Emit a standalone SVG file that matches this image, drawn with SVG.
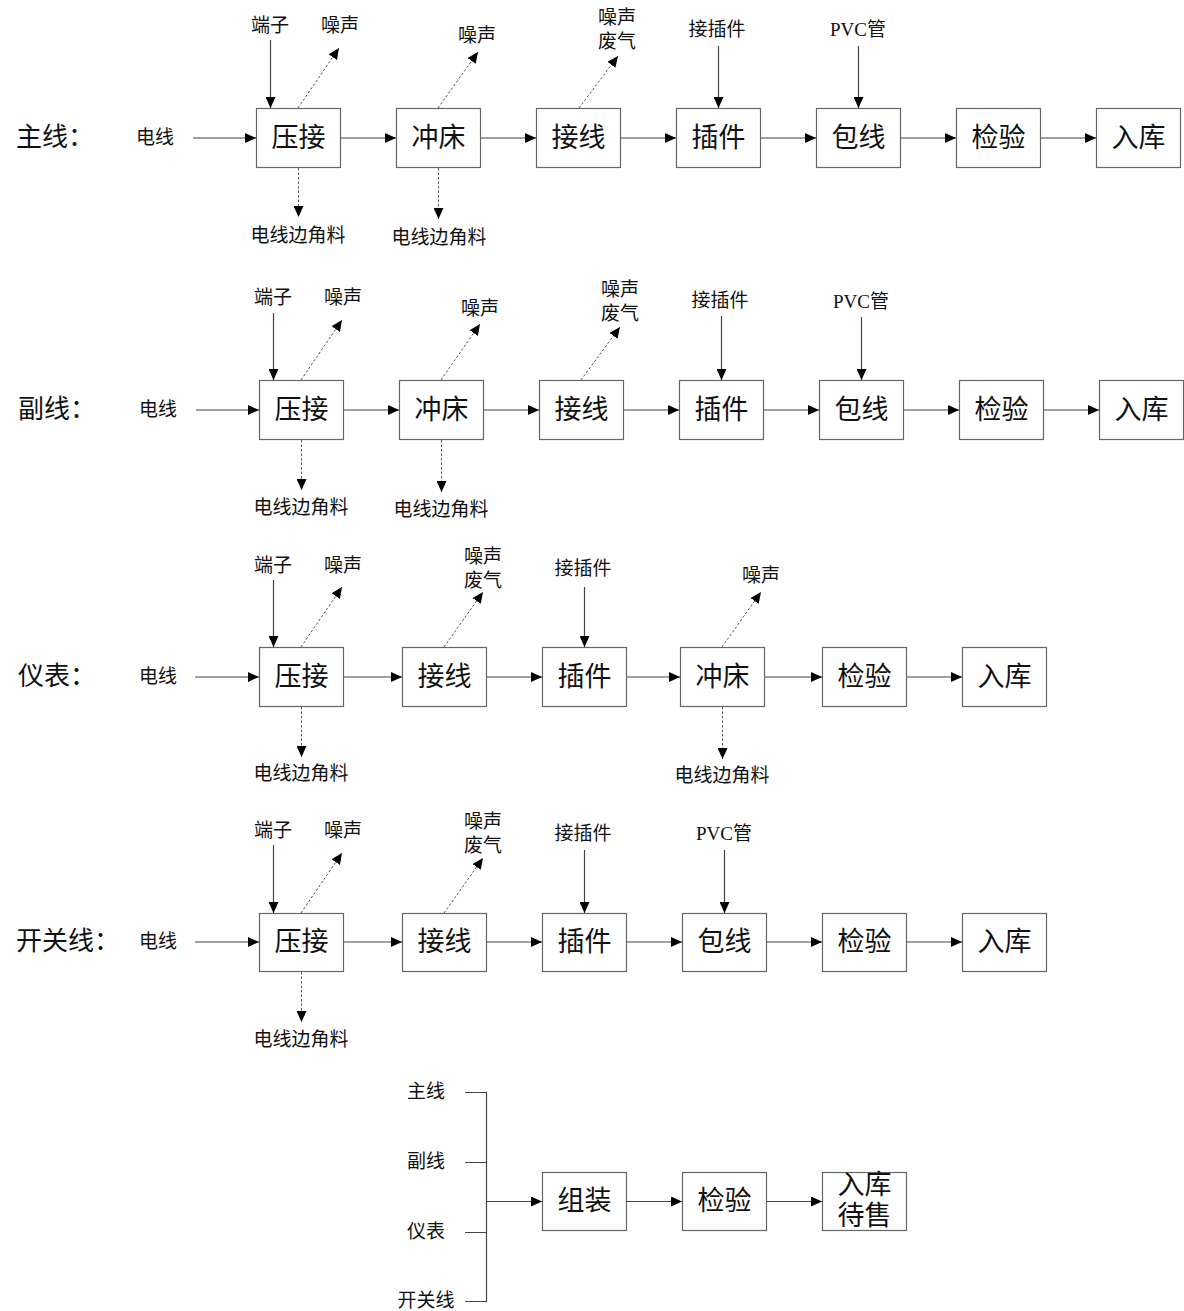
<svg xmlns="http://www.w3.org/2000/svg" width="1184" height="1311" viewBox="0 0 1184 1311">
<defs>
<style>
.box{fill:#fff;stroke:#666;stroke-width:1.2}
.bt{font-family:"Liberation Serif","Noto Sans CJK SC",serif;font-size:27px;fill:#111;text-anchor:middle;dominant-baseline:central}
.st{font-family:"Liberation Serif","Noto Sans CJK SC",serif;font-size:19px;fill:#111;text-anchor:middle;dominant-baseline:central}
.lt{font-family:"Liberation Serif","Noto Sans CJK SC",serif;font-size:26px;fill:#111;dominant-baseline:central}
.ln{fill:none;stroke:#444;stroke-width:1.2}
.ar{marker-end:url(#ah)}
.dt{fill:none;stroke:#555;stroke-width:1;stroke-dasharray:2.5,2;marker-end:url(#ah)}
</style>
<marker id="ah" markerUnits="userSpaceOnUse" markerWidth="12" markerHeight="10" refX="11" refY="5" orient="auto">
<path d="M0,0 L11,5 L0,10 z" fill="#000"/>
</marker>
</defs>
<rect width="1184" height="1311" fill="#fff"/>

<!-- Row 1 主线 -->
<g id="row1-label"><text class="lt" x="16" y="137">主线：</text></g>
<g id="r1-in"><text class="st" x="155" y="137">电线</text></g>
<g id="r1-n1"><rect class="box" x="256.5" y="108.5" width="84" height="59"/><text class="bt" x="298.5" y="138">压接</text></g>
<g id="r1-n2"><rect class="box" x="396.5" y="108.5" width="84" height="59"/><text class="bt" x="438.5" y="138">冲床</text></g>
<g id="r1-n3"><rect class="box" x="536.5" y="108.5" width="84" height="59"/><text class="bt" x="578.5" y="138">接线</text></g>
<g id="r1-n4"><rect class="box" x="676.5" y="108.5" width="84" height="59"/><text class="bt" x="718.5" y="138">插件</text></g>
<g id="r1-n5"><rect class="box" x="816.5" y="108.5" width="84" height="59"/><text class="bt" x="858.5" y="138">包线</text></g>
<g id="r1-n6"><rect class="box" x="956.5" y="108.5" width="84" height="59"/><text class="bt" x="998.5" y="138">检验</text></g>
<g id="r1-n7"><rect class="box" x="1096.5" y="108.5" width="84" height="59"/><text class="bt" x="1138.5" y="138">入库</text></g>
<g id="r1-t1"><text class="st" x="270" y="25">端子</text></g>
<g id="r1-t2"><text class="st" x="340" y="25">噪声</text></g>
<g id="r1-t3"><text class="st" x="298" y="235">电线边角料</text></g>
<g id="r1-t4"><text class="st" x="477" y="35">噪声</text></g>
<g id="r1-t5"><text class="st" x="439" y="237">电线边角料</text></g>
<g id="r1-t6"><text class="st" x="617" y="17">噪声</text><text class="st" x="617" y="41">废气</text></g>
<g id="r1-t7"><text class="st" x="717" y="29">接插件</text></g>
<g id="r1-t8"><text class="st" x="858" y="29">PVC管</text></g>

<!-- Row 2 副线 -->
<g id="row2-label"><text class="lt" x="18" y="409">副线：</text></g>
<g id="r2-in"><text class="st" x="158" y="409">电线</text></g>
<g id="r2-n1"><rect class="box" x="259.5" y="380.5" width="84" height="59"/><text class="bt" x="301.5" y="410">压接</text></g>
<g id="r2-n2"><rect class="box" x="399.5" y="380.5" width="84" height="59"/><text class="bt" x="441.5" y="410">冲床</text></g>
<g id="r2-n3"><rect class="box" x="539.5" y="380.5" width="84" height="59"/><text class="bt" x="581.5" y="410">接线</text></g>
<g id="r2-n4"><rect class="box" x="679.5" y="380.5" width="84" height="59"/><text class="bt" x="721.5" y="410">插件</text></g>
<g id="r2-n5"><rect class="box" x="819.5" y="380.5" width="84" height="59"/><text class="bt" x="861.5" y="410">包线</text></g>
<g id="r2-n6"><rect class="box" x="959.5" y="380.5" width="84" height="59"/><text class="bt" x="1001.5" y="410">检验</text></g>
<g id="r2-n7"><rect class="box" x="1099.5" y="380.5" width="84" height="59"/><text class="bt" x="1141.5" y="410">入库</text></g>
<g id="r2-t1"><text class="st" x="273" y="297">端子</text></g>
<g id="r2-t2"><text class="st" x="343" y="297">噪声</text></g>
<g id="r2-t3"><text class="st" x="301" y="507">电线边角料</text></g>
<g id="r2-t4"><text class="st" x="480" y="308">噪声</text></g>
<g id="r2-t5"><text class="st" x="441" y="509">电线边角料</text></g>
<g id="r2-t6"><text class="st" x="620" y="289">噪声</text><text class="st" x="620" y="313">废气</text></g>
<g id="r2-t7"><text class="st" x="720" y="300">接插件</text></g>
<g id="r2-t8"><text class="st" x="861" y="301">PVC管</text></g>

<!-- Row 3 仪表 -->
<g id="row3-label"><text class="lt" x="18" y="676">仪表：</text></g>
<g id="r3-in"><text class="st" x="158" y="676">电线</text></g>
<g id="r3-n1"><rect class="box" x="259.5" y="647.5" width="84" height="59"/><text class="bt" x="301.5" y="677">压接</text></g>
<g id="r3-n2"><rect class="box" x="402.5" y="647.5" width="84" height="59"/><text class="bt" x="444.5" y="677">接线</text></g>
<g id="r3-n3"><rect class="box" x="542.5" y="647.5" width="84" height="59"/><text class="bt" x="584.5" y="677">插件</text></g>
<g id="r3-n4"><rect class="box" x="680.5" y="647.5" width="84" height="59"/><text class="bt" x="722.5" y="677">冲床</text></g>
<g id="r3-n5"><rect class="box" x="822.5" y="647.5" width="84" height="59"/><text class="bt" x="864.5" y="677">检验</text></g>
<g id="r3-n6"><rect class="box" x="962.5" y="647.5" width="84" height="59"/><text class="bt" x="1004.5" y="677">入库</text></g>
<g id="r3-t1"><text class="st" x="273" y="565">端子</text></g>
<g id="r3-t2"><text class="st" x="343" y="565">噪声</text></g>
<g id="r3-t3"><text class="st" x="301" y="773">电线边角料</text></g>
<g id="r3-t4"><text class="st" x="483" y="556">噪声</text><text class="st" x="483" y="580">废气</text></g>
<g id="r3-t5"><text class="st" x="583" y="568">接插件</text></g>
<g id="r3-t6"><text class="st" x="761" y="575">噪声</text></g>
<g id="r3-t7"><text class="st" x="722" y="775">电线边角料</text></g>

<!-- Row 4 开关线 -->
<g id="row4-label"><text class="lt" x="16" y="941">开关线：</text></g>
<g id="r4-in"><text class="st" x="158" y="941">电线</text></g>
<g id="r4-n1"><rect class="box" x="259.5" y="913.5" width="84" height="58"/><text class="bt" x="301.5" y="942">压接</text></g>
<g id="r4-n2"><rect class="box" x="402.5" y="913.5" width="84" height="58"/><text class="bt" x="444.5" y="942">接线</text></g>
<g id="r4-n3"><rect class="box" x="542.5" y="913.5" width="84" height="58"/><text class="bt" x="584.5" y="942">插件</text></g>
<g id="r4-n4"><rect class="box" x="682.5" y="913.5" width="84" height="58"/><text class="bt" x="724.5" y="942">包线</text></g>
<g id="r4-n5"><rect class="box" x="822.5" y="913.5" width="84" height="58"/><text class="bt" x="864.5" y="942">检验</text></g>
<g id="r4-n6"><rect class="box" x="962.5" y="913.5" width="84" height="58"/><text class="bt" x="1004.5" y="942">入库</text></g>
<g id="r4-t1"><text class="st" x="273" y="830">端子</text></g>
<g id="r4-t2"><text class="st" x="343" y="830">噪声</text></g>
<g id="r4-t3"><text class="st" x="301" y="1039">电线边角料</text></g>
<g id="r4-t4"><text class="st" x="483" y="821">噪声</text><text class="st" x="483" y="845">废气</text></g>
<g id="r4-t5"><text class="st" x="583" y="833">接插件</text></g>
<g id="r4-t6"><text class="st" x="724" y="833">PVC管</text></g>

<!-- Bottom assembly -->
<g id="b-l1"><text class="st" x="426" y="1091">主线</text></g>
<g id="b-l2"><text class="st" x="426" y="1161">副线</text></g>
<g id="b-l3"><text class="st" x="426" y="1231">仪表</text></g>
<g id="b-l4"><text class="st" x="426" y="1300">开关线</text></g>
<g id="b-n1"><rect class="box" x="542.5" y="1172.5" width="84" height="58"/><text class="bt" x="584.5" y="1201">组装</text></g>
<g id="b-n2"><rect class="box" x="682.5" y="1172.5" width="84" height="58"/><text class="bt" x="724.5" y="1201">检验</text></g>
<g id="b-n3"><rect class="box" x="822.5" y="1172.5" width="84" height="58"/><text class="bt" x="864.5" y="1185">入库</text><text class="bt" x="864.5" y="1216">待售</text></g>

<g id="connectors">
<!-- row1 -->
<line class="ln ar" x1="193" y1="138" x2="256" y2="138"/>
<line class="ln ar" x1="341" y1="138" x2="396" y2="138"/>
<line class="ln ar" x1="481" y1="138" x2="536" y2="138"/>
<line class="ln ar" x1="621" y1="138" x2="676" y2="138"/>
<line class="ln ar" x1="761" y1="138" x2="816" y2="138"/>
<line class="ln ar" x1="901" y1="138" x2="956" y2="138"/>
<line class="ln ar" x1="1041" y1="138" x2="1096" y2="138"/>
<line class="ln ar" x1="270.5" y1="40" x2="270.5" y2="108"/>
<line class="dt" x1="298" y1="108" x2="339" y2="48"/>
<line class="dt" x1="298.5" y1="168" x2="298.5" y2="217"/>
<line class="dt" x1="438" y1="108" x2="478" y2="52"/>
<line class="dt" x1="438.5" y1="168" x2="438.5" y2="219"/>
<line class="dt" x1="579" y1="108" x2="618" y2="56"/>
<line class="ln ar" x1="718.5" y1="46" x2="718.5" y2="108"/>
<line class="ln ar" x1="858.5" y1="46" x2="858.5" y2="108"/>
<!-- row2 -->
<line class="ln ar" x1="196" y1="410" x2="259" y2="410"/>
<line class="ln ar" x1="344" y1="410" x2="399" y2="410"/>
<line class="ln ar" x1="484" y1="410" x2="539" y2="410"/>
<line class="ln ar" x1="624" y1="410" x2="679" y2="410"/>
<line class="ln ar" x1="764" y1="410" x2="819" y2="410"/>
<line class="ln ar" x1="904" y1="410" x2="959" y2="410"/>
<line class="ln ar" x1="1044" y1="410" x2="1099" y2="410"/>
<line class="ln ar" x1="273.5" y1="313" x2="273.5" y2="380"/>
<line class="dt" x1="301" y1="380" x2="342" y2="320"/>
<line class="dt" x1="301.5" y1="440" x2="301.5" y2="490"/>
<line class="dt" x1="441" y1="380" x2="480" y2="324"/>
<line class="dt" x1="441.5" y1="440" x2="441.5" y2="492"/>
<line class="dt" x1="581" y1="380" x2="620" y2="327"/>
<line class="ln ar" x1="721.5" y1="316" x2="721.5" y2="380"/>
<line class="ln ar" x1="861.5" y1="317" x2="861.5" y2="380"/>
<!-- row3 -->
<line class="ln ar" x1="195" y1="677" x2="259" y2="677"/>
<line class="ln ar" x1="344" y1="677" x2="402" y2="677"/>
<line class="ln ar" x1="487" y1="677" x2="542" y2="677"/>
<line class="ln ar" x1="627" y1="677" x2="680" y2="677"/>
<line class="ln ar" x1="765" y1="677" x2="822" y2="677"/>
<line class="ln ar" x1="907" y1="677" x2="962" y2="677"/>
<line class="ln ar" x1="273.5" y1="580" x2="273.5" y2="647"/>
<line class="dt" x1="301" y1="647" x2="342" y2="587"/>
<line class="dt" x1="301.5" y1="707" x2="301.5" y2="757"/>
<line class="dt" x1="444" y1="647" x2="483" y2="592"/>
<line class="ln ar" x1="584.5" y1="587" x2="584.5" y2="647"/>
<line class="dt" x1="722" y1="647" x2="761" y2="592"/>
<line class="dt" x1="722.5" y1="707" x2="722.5" y2="759"/>
<!-- row4 -->
<line class="ln ar" x1="195" y1="942" x2="259" y2="942"/>
<line class="ln ar" x1="344" y1="942" x2="402" y2="942"/>
<line class="ln ar" x1="487" y1="942" x2="542" y2="942"/>
<line class="ln ar" x1="627" y1="942" x2="682" y2="942"/>
<line class="ln ar" x1="767" y1="942" x2="822" y2="942"/>
<line class="ln ar" x1="907" y1="942" x2="962" y2="942"/>
<line class="ln ar" x1="273.5" y1="845" x2="273.5" y2="913"/>
<line class="dt" x1="301" y1="913" x2="342" y2="853"/>
<line class="dt" x1="301.5" y1="972" x2="301.5" y2="1022"/>
<line class="dt" x1="444" y1="913" x2="483" y2="858"/>
<line class="ln ar" x1="584.5" y1="850" x2="584.5" y2="913"/>
<line class="ln ar" x1="724.5" y1="850" x2="724.5" y2="913"/>
<!-- bottom -->
<path class="ln" d="M465,1092.5 H486.5 V1301.5 H465 M465,1162.5 H486.5 M465,1232.5 H486.5"/>
<line class="ln ar" x1="486" y1="1201.5" x2="542" y2="1201.5"/>
<line class="ln ar" x1="627" y1="1201.5" x2="682" y2="1201.5"/>
<line class="ln ar" x1="767" y1="1201.5" x2="822" y2="1201.5"/>
</g>
</svg>
